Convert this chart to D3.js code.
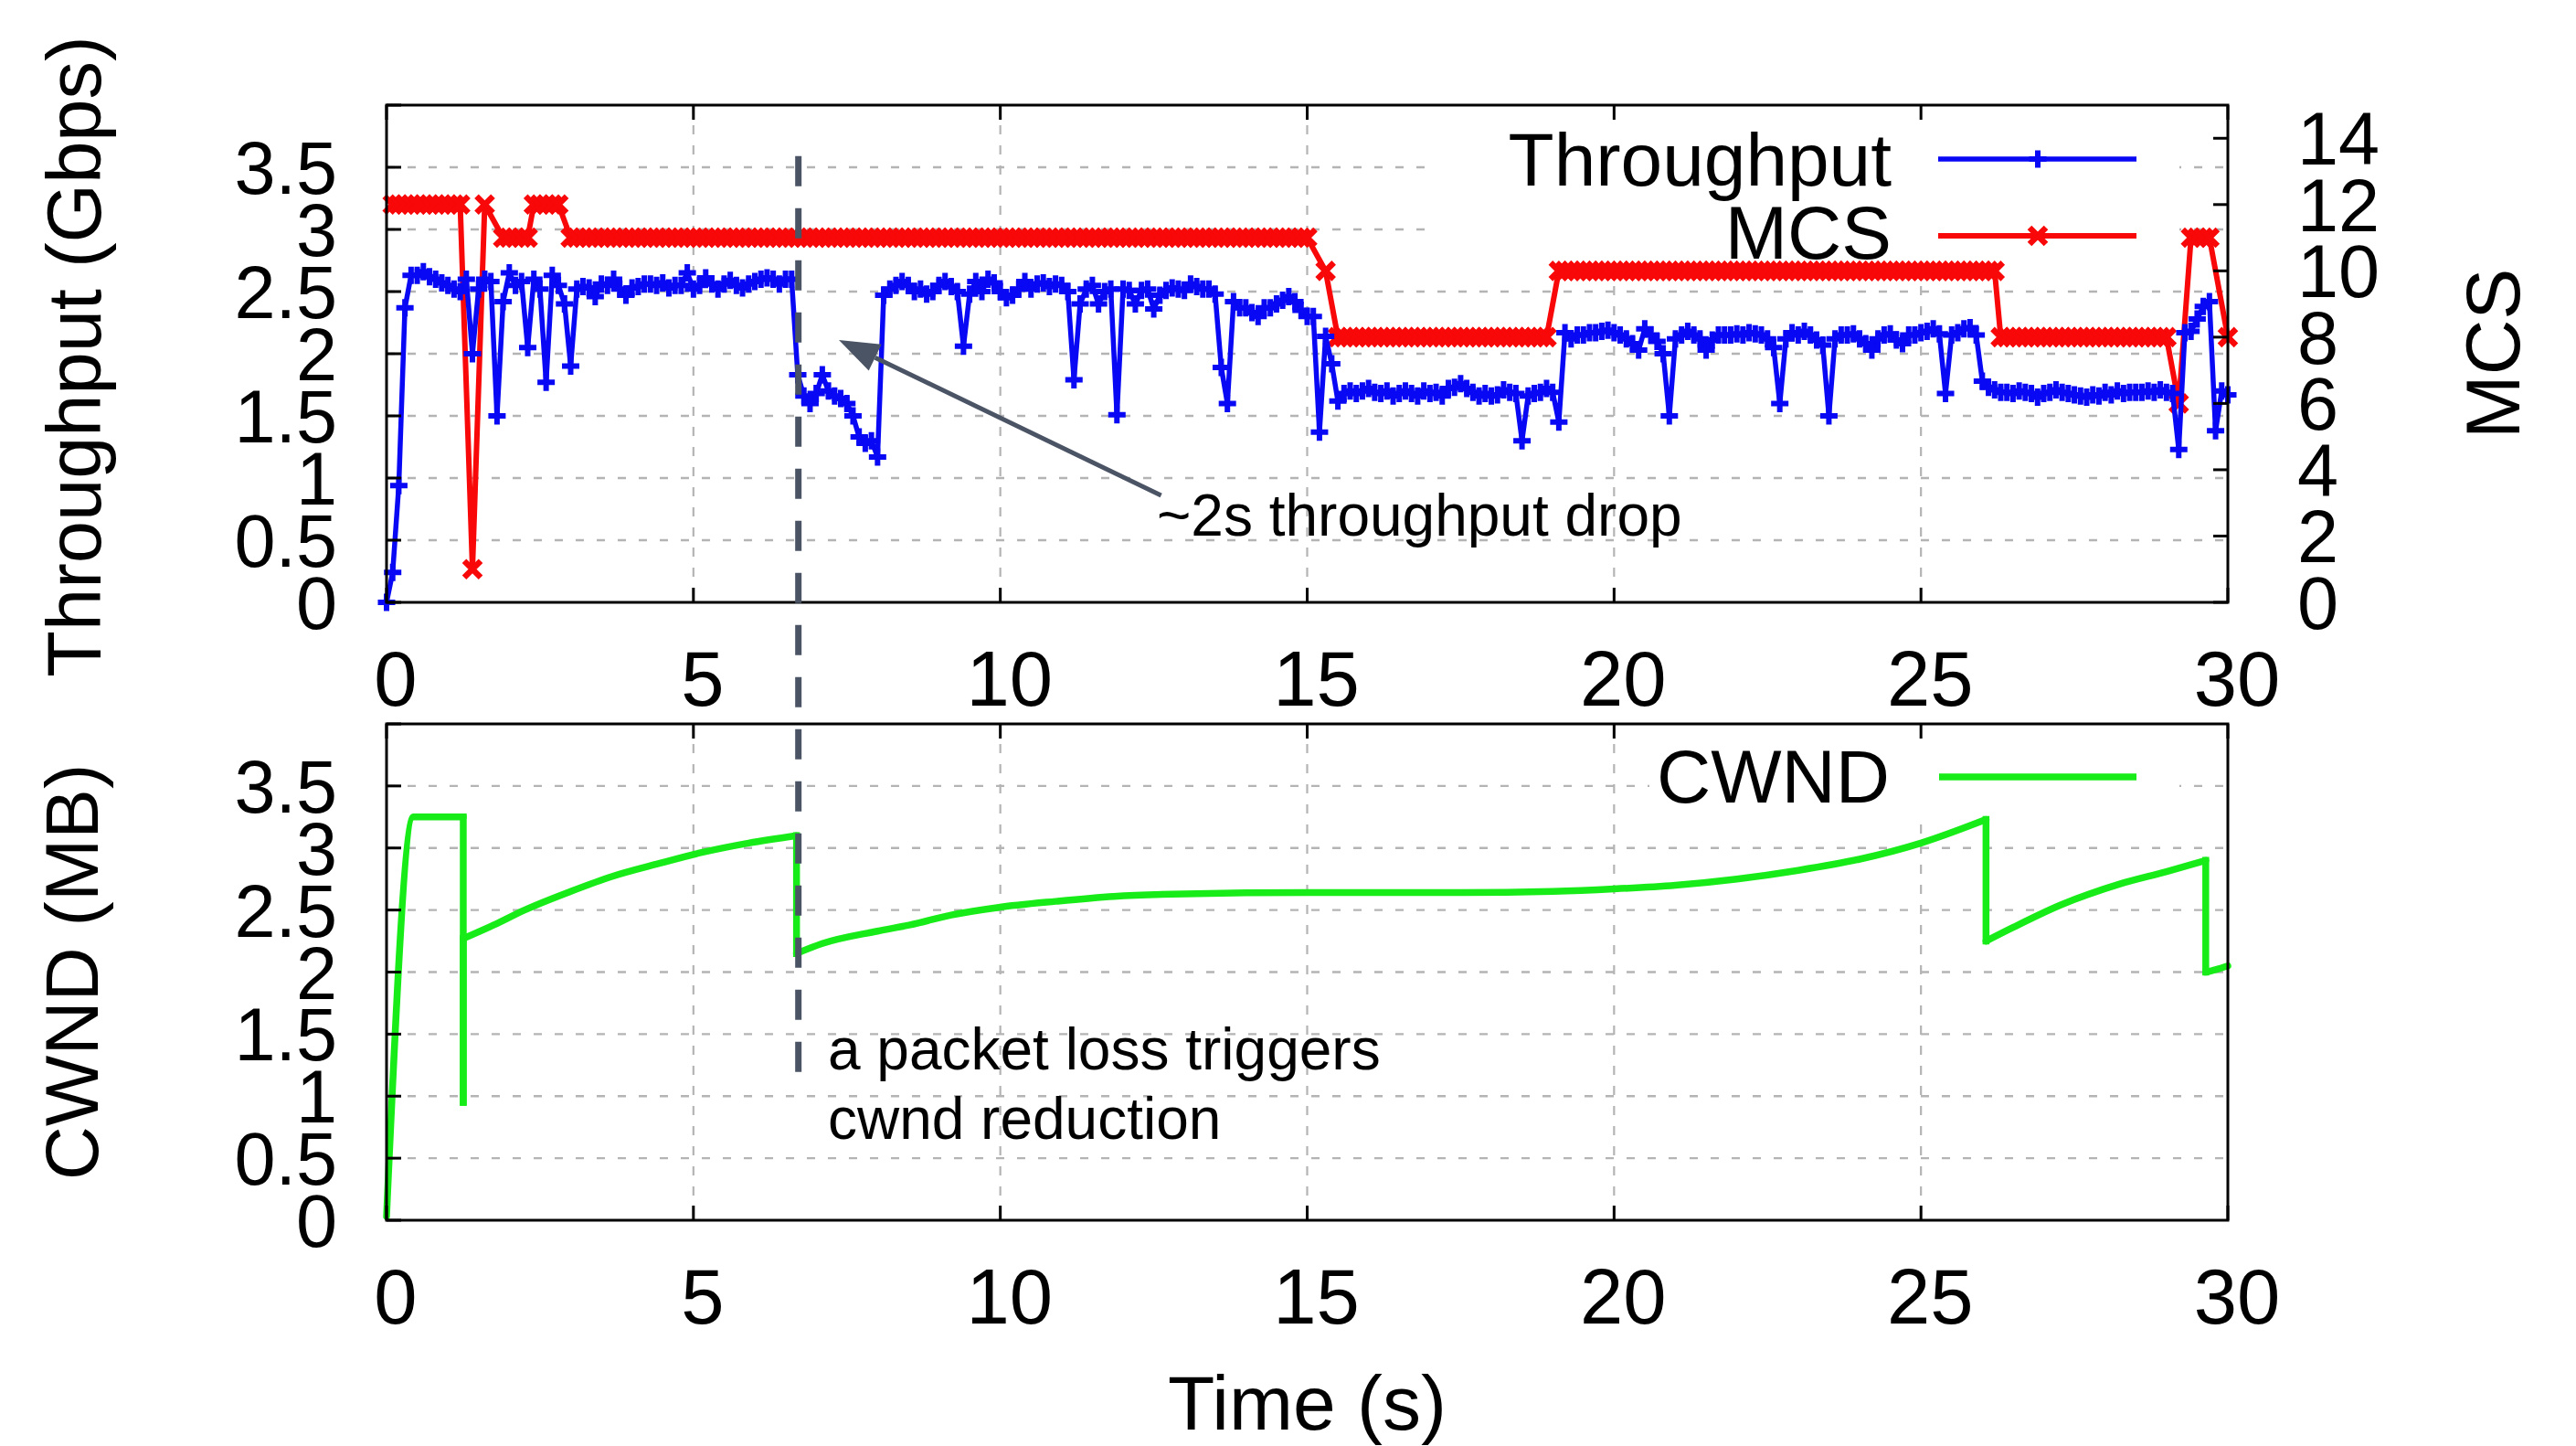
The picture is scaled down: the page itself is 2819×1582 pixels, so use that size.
<!DOCTYPE html>
<html><head><meta charset="utf-8">
<script src="https://cdn.jsdelivr.net/npm/d3@7"></script>
<style>
html,body{margin:0;padding:0;background:#fff;}
svg{display:block;}
text{font-family:"Liberation Sans",Arial,Helvetica,sans-serif;fill:#000;}
</style></head><body>
<svg id="chart" width="2819" height="1582"></svg>
<script>
// ---------------- data ----------------
const timeStep = 0.1; // seconds between throughput / MCS samples
const throughput = [
0,0.24,0.94,2.37,2.63,2.63,2.66,2.62,2.6,2.57,
2.55,2.52,2.5,2.6,2.0,2.52,2.6,2.58,1.5,2.42,
2.65,2.55,2.58,2.05,2.6,2.52,1.77,2.63,2.55,2.4,
1.9,2.52,2.54,2.53,2.46,2.56,2.55,2.6,2.52,2.47,
2.53,2.54,2.56,2.56,2.55,2.57,2.53,2.55,2.55,2.65,
2.52,2.55,2.61,2.56,2.52,2.56,2.59,2.55,2.53,2.56,
2.58,2.6,2.61,2.6,2.56,2.6,2.6,1.83,1.66,1.6,
1.68,1.83,1.7,1.66,1.64,1.6,1.5,1.33,1.28,1.3,
1.17,2.47,2.52,2.55,2.58,2.55,2.5,2.52,2.48,2.5,
2.55,2.58,2.54,2.5,2.06,2.48,2.58,2.5,2.6,2.57,
2.5,2.45,2.47,2.52,2.58,2.52,2.56,2.57,2.54,2.56,
2.55,2.5,1.79,2.4,2.52,2.55,2.4,2.5,2.52,1.51,
2.52,2.51,2.4,2.51,2.52,2.36,2.47,2.51,2.53,2.52,
2.51,2.56,2.54,2.52,2.52,2.48,1.89,1.6,2.42,2.37,
2.37,2.33,2.3,2.37,2.37,2.4,2.43,2.46,2.42,2.35,
2.3,2.3,1.37,2.14,1.92,1.62,1.68,1.7,1.68,1.7,
1.72,1.69,1.68,1.7,1.66,1.68,1.7,1.68,1.66,1.7,
1.68,1.69,1.66,1.72,1.73,1.76,1.72,1.69,1.66,1.68,
1.66,1.67,1.71,1.69,1.68,1.3,1.66,1.68,1.69,1.72,
1.69,1.45,2.17,2.12,2.15,2.15,2.17,2.17,2.18,2.19,
2.17,2.15,2.12,2.08,2.03,2.2,2.15,2.1,2.0,1.5,
2.12,2.15,2.18,2.15,2.12,2.03,2.11,2.15,2.15,2.15,
2.16,2.15,2.17,2.16,2.15,2.12,2.05,1.6,2.12,2.17,
2.15,2.18,2.15,2.11,2.07,1.5,2.12,2.15,2.15,2.16,
2.12,2.08,2.03,2.12,2.15,2.16,2.11,2.08,2.15,2.15,
2.17,2.18,2.2,2.16,1.68,2.15,2.17,2.2,2.21,2.15,
1.78,1.73,1.71,1.69,1.69,1.68,1.7,1.69,1.68,1.65,
1.68,1.69,1.71,1.69,1.68,1.67,1.66,1.65,1.67,1.66,
1.69,1.67,1.7,1.68,1.69,1.69,1.69,1.7,1.69,1.71,
1.69,1.68,1.23,2.17,2.18,2.28,2.38,2.42,1.38,1.7,
1.67];
// MCS index on the same 0.1 s grid; null = no sample at that instant
const mcs = [
null,12,12,12,12,12,12,12,12,12,
12,12,12,null,1,null,12,null,null,11,
11,11,11,11,12,12,12,12,12,null,
11,11,11,11,11,11,11,11,11,11,
11,11,11,11,11,11,11,11,11,11,
11,11,11,11,11,11,11,11,11,11,
11,11,11,11,11,11,11,11,11,11,
11,11,11,11,11,11,11,11,11,11,
11,11,11,11,11,11,11,11,11,11,
11,11,11,11,11,11,11,11,11,11,
11,11,11,11,11,11,11,11,11,11,
11,11,11,11,11,11,11,11,11,11,
11,11,11,11,11,11,11,11,11,11,
11,11,11,11,11,11,11,11,11,11,
11,11,11,11,11,11,11,11,11,11,
11,null,null,10,null,8,8,8,8,8,
8,8,8,8,8,8,8,8,8,8,
8,8,8,8,8,8,8,8,8,8,
8,8,8,8,8,8,8,8,8,8,
null,10,10,10,10,10,10,10,10,10,
10,10,10,10,10,10,10,10,10,10,
10,10,10,10,10,10,10,10,10,10,
10,10,10,10,10,10,10,10,10,10,
10,10,10,10,10,10,10,10,10,10,
10,10,10,10,10,10,10,10,10,10,
10,10,10,10,10,10,10,10,10,10,
10,10,10,8,8,8,8,8,8,8,
8,8,8,8,8,8,8,8,8,8,
8,8,8,8,8,8,8,8,8,8,
8,null,6,null,11,11,11,11,null,null,
8];
const cwndTime  = [0,0.44,1.25,1.25,1.25,1.75,2.25,3.0,3.67,4.4,5.1,5.9,6.68,6.68,7.1,8.0,8.53,9.2,9.95,10.9,11.85,13.0,15.0,17.5,19.0,20.0,21.0,22.0,23.0,24.0,25.0,26.06,26.06,26.5,27.27,28.24,29.0,29.64,29.64,29.8,30.0];
const cwndValue = [0.03,3.25,3.25,0.95,2.27,2.38,2.5,2.65,2.77,2.87,2.96,3.04,3.1,2.15,2.23,2.33,2.38,2.46,2.52,2.57,2.61,2.63,2.64,2.64,2.65,2.67,2.7,2.75,2.82,2.91,3.04,3.23,2.25,2.36,2.54,2.71,2.81,2.9,2.0,2.02,2.05];

const xTicks = [0,5,10,15,20,25,30];
const xTickLabels = ["0","5","10","15","20","25","30"];
const yTicks = [0,0.5,1,1.5,2,2.5,3,3.5];
const yTickLabels = ["0","0.5","1","1.5","2","2.5","3","3.5"];
const mcsTicks = [0,2,4,6,8,10,12,14];
const mcsTickLabels = ["0","2","4","6","8","10","12","14"];

const lossTime = 6.71;

// ---------------- layout ----------------
const svg = d3.select("#chart");
const L = 423, R = 2438;
const top1 = 115, bot1 = 659;
const top2 = 792, bot2 = 1335;

const x = d3.scaleLinear().domain([0,30]).range([L,R]);
const yT = d3.scaleLinear().domain([0,4]).range([bot1,top1]);
const yM = d3.scaleLinear().domain([0,15]).range([bot1,top1]);
const yC = d3.scaleLinear().domain([0,4]).range([bot2,top2]);

const COL_BLUE = "#0808f4", COL_RED = "#f80808", COL_GREEN = "#18ec18";
const COL_NOTE = "#4a5465";
const GRID = "#b4b4b4";

const sampleTimes = throughput.map((_,i)=>+(i*timeStep).toFixed(1));
const tpData = throughput.map((v,i)=>({t:sampleTimes[i], v}));
const mcsData = mcs.map((v,i)=>({t:sampleTimes[i], v})).filter(d=>d.v!==null);
const cwndData = cwndTime.map((t,i)=>({t, v:cwndValue[i]}));

function panel(g, y, yTop, yBot, gridTicks){
  g.append("g").selectAll("line").data(gridTicks.filter(d=>d>0)).join("line")
    .attr("x1",L).attr("x2",R).attr("y1",d=>y(d)).attr("y2",d=>y(d))
    .attr("stroke",GRID).attr("stroke-width",2.4).attr("stroke-dasharray","9,14");
  g.append("g").selectAll("line").data(xTicks.filter(d=>d>0&&d<30)).join("line")
    .attr("x1",d=>x(d)).attr("x2",d=>x(d)).attr("y1",yTop).attr("y2",yBot)
    .attr("stroke",GRID).attr("stroke-width",2.2).attr("stroke-dasharray","10,12");
}

const g1 = svg.append("g");
const g2 = svg.append("g");
panel(g1, yT, top1, bot1, yTicks);
panel(g2, yC, top2, bot2, yTicks);

// opaque key boxes
g1.append("rect").attr("x",1565).attr("y",top1+2).attr("width",820).attr("height",195).attr("fill","#fff");
g2.append("rect").attr("x",1805).attr("y",top2+2).attr("width",580).attr("height",96).attr("fill","#fff");

// ---------------- top panel data ----------------
const lineT = d3.line().x(d=>x(d.t)).y(d=>yT(d.v));
const lineM = d3.line().x(d=>x(d.t)).y(d=>yM(d.v));

const plusPath = "M-9.5,0H9.5M0,-9.5V9.5";
const crossPath = "M-9,-9L9,9M-9,9L9,-9";

g1.append("path").datum(mcsData).attr("d",lineM).attr("fill","none")
  .attr("stroke",COL_RED).attr("stroke-width",6).attr("stroke-linejoin","round");
g1.append("g").selectAll("path").data(mcsData).join("path")
  .attr("transform",d=>`translate(${x(d.t)},${yM(d.v)})`).attr("d",crossPath)
  .attr("stroke",COL_RED).attr("stroke-width",6.5).attr("fill","none");

g1.append("path").datum(tpData).attr("d",lineT).attr("fill","none")
  .attr("stroke",COL_BLUE).attr("stroke-width",5.5).attr("stroke-linejoin","round");
g1.append("g").selectAll("path").data(tpData).join("path")
  .attr("transform",d=>`translate(${x(d.t)},${yT(d.v)})`).attr("d",plusPath)
  .attr("stroke",COL_BLUE).attr("stroke-width",6).attr("fill","none");

// ---------------- bottom panel data ----------------
// smooth growth segments, straight vertical drops where a time repeats
const lineC = d3.line().x(d=>x(d.t)).y(d=>yC(d.v)).curve(d3.curveMonotoneX);
const lineCstraight = d3.line().x(d=>x(d.t)).y(d=>yC(d.v));
const segs = []; let cur = [cwndData[0]];
const drops = [];
for(let i=1;i<cwndData.length;i++){
  if(cwndData[i].t === cwndData[i-1].t){
    drops.push([cwndData[i-1], cwndData[i]]);
    if(cur.length>1) segs.push(cur);
    cur = [cwndData[i]];
  } else cur.push(cwndData[i]);
}
if(cur.length>1) segs.push(cur);
const gC = g2.append("g").attr("fill","none").attr("stroke",COL_GREEN).attr("stroke-width",7.5);
gC.selectAll("path.s").data(segs).join("path").attr("d",lineC).attr("stroke-linecap","round");
gC.selectAll("path.d").data(drops).join("path").attr("d",lineCstraight).attr("stroke-linecap","square");

// ---------------- frames, ticks, labels ----------------
function frame(g, y, yTop, yBot, rightScale, rightTicks){
  g.append("rect").attr("x",L).attr("y",yTop).attr("width",R-L).attr("height",yBot-yTop)
    .attr("fill","none").attr("stroke","#000").attr("stroke-width",3);
  const tk = 16;
  g.append("g").selectAll("line").data(yTicks.concat([4])).join("line")
    .attr("x1",L).attr("x2",L+tk).attr("y1",d=>y(d)).attr("y2",d=>y(d))
    .attr("stroke","#000").attr("stroke-width",3);
  g.append("g").selectAll("line").data(xTicks).join("line")
    .attr("x1",d=>x(d)).attr("x2",d=>x(d)).attr("y1",yBot).attr("y2",yBot-tk)
    .attr("stroke","#000").attr("stroke-width",3);
  g.append("g").selectAll("line").data(xTicks).join("line")
    .attr("x1",d=>x(d)).attr("x2",d=>x(d)).attr("y1",yTop).attr("y2",yTop+tk)
    .attr("stroke","#000").attr("stroke-width",3);
  if(rightScale){
    g.append("g").selectAll("line").data(rightTicks).join("line")
      .attr("x1",R).attr("x2",R-tk).attr("y1",d=>rightScale(d)).attr("y2",d=>rightScale(d))
      .attr("stroke","#000").attr("stroke-width",3);
  }
  g.append("g").selectAll("text").data(yTicks).join("text")
    .attr("x",369).attr("y",d=>y(d)+29).attr("text-anchor","end")
    .attr("font-size",81).text((d,i)=>yTickLabels[i]);
  g.append("g").selectAll("text").data(xTicks).join("text")
    .attr("x",d=>x(d)+10).attr("y",yBot+113).attr("text-anchor","middle")
    .attr("font-size",85).text((d,i)=>xTickLabels[i]);
}
frame(g1, yT, top1, bot1, yM, mcsTicks);
frame(g2, yC, top2, bot2, null, null);

g1.append("g").selectAll("text").data(mcsTicks).join("text")
  .attr("x",2514).attr("y",d=>yM(d)+29).attr("text-anchor","start")
  .attr("font-size",81).text((d,i)=>mcsTickLabels[i]);

// axis titles
svg.append("text").attr("transform",`translate(110,${(top1+bot1)/2 + 3}) rotate(-90)`)
  .attr("text-anchor","middle").attr("font-size",83).text("Throughput (Gbps)");
svg.append("text").attr("transform",`translate(107,${(top2+bot2)/2}) rotate(-90)`)
  .attr("text-anchor","middle").attr("font-size",82).text("CWND (MB)");
svg.append("text").attr("transform",`translate(2757,${(top1+bot1)/2}) rotate(-90)`)
  .attr("text-anchor","middle").attr("font-size",84).text("MCS");
svg.append("text").attr("x",(L+R)/2).attr("y",1564)
  .attr("text-anchor","middle").attr("font-size",84).text("Time (s)");

// legends
const lg = svg.append("g");
lg.append("text").attr("x",2070).attr("y",203).attr("text-anchor","end").attr("font-size",82).text("Throughput");
lg.append("line").attr("x1",2121).attr("x2",2338).attr("y1",174).attr("y2",174).attr("stroke",COL_BLUE).attr("stroke-width",5.5);
lg.append("path").attr("transform","translate(2230,174)").attr("d",plusPath).attr("stroke",COL_BLUE).attr("stroke-width",6);
lg.append("text").attr("x",2070).attr("y",283).attr("text-anchor","end").attr("font-size",82).text("MCS");
lg.append("line").attr("x1",2121).attr("x2",2338).attr("y1",258).attr("y2",258).attr("stroke",COL_RED).attr("stroke-width",6);
lg.append("path").attr("transform","translate(2230,258)").attr("d",crossPath).attr("stroke",COL_RED).attr("stroke-width",6.5);
lg.append("text").attr("x",2068).attr("y",878).attr("text-anchor","end").attr("font-size",82).text("CWND");
lg.append("line").attr("x1",2122).attr("x2",2338).attr("y1",850).attr("y2",850).attr("stroke",COL_GREEN).attr("stroke-width",7.5);

// ---------------- annotations ----------------
const ann = svg.append("g");
ann.append("line").attr("x1",x(lossTime)).attr("x2",x(lossTime))
  .attr("y1",yT(3.59)).attr("y2",yC(1.1))
  .attr("stroke",COL_NOTE).attr("stroke-width",7).attr("stroke-dasharray","33,24");

const tail = [x(12.62), yT(0.86)], tip = [x(7.37), yT(2.11)];
const ang = Math.atan2(tip[1]-tail[1], tip[0]-tail[0]);
const hl = 44, hw = 16;
const bx = tip[0]-hl*Math.cos(ang), by = tip[1]-hl*Math.sin(ang);
ann.append("line").attr("x1",tail[0]).attr("y1",tail[1]).attr("x2",bx).attr("y2",by)
  .attr("stroke",COL_NOTE).attr("stroke-width",5);
ann.append("path").attr("d",`M${tip[0]},${tip[1]}L${bx+hw*Math.sin(ang)},${by-hw*Math.cos(ang)}L${bx-hw*Math.sin(ang)},${by+hw*Math.cos(ang)}Z`)
  .attr("fill",COL_NOTE);
ann.append("text").attr("x",x(12.55)).attr("y",yT(0.54)).attr("font-size",64).text("~2s throughput drop");
ann.append("text").attr("x",x(7.19)).attr("y",yC(1.215)).attr("font-size",64).text("a packet loss triggers");
ann.append("text").attr("x",x(7.19)).attr("y",yC(0.656)).attr("font-size",64).text("cwnd reduction");
</script>
</body></html>
